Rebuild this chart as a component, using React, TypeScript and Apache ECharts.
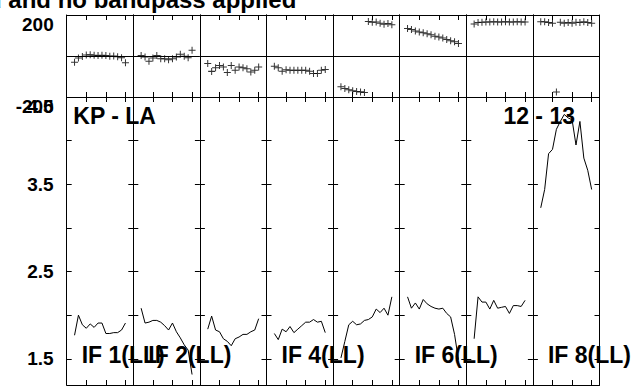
import React, { useEffect, useRef } from "react";
import * as echarts from "echarts";

// ---- data ----
const channels = [2, 3, 4, 5, 6, 7, 8, 9, 10, 11, 12, 13, 14, 15];
const ifLabels = ["IF 1(LL)", "IF 2(LL)", "", "IF 4(LL)", "", "IF 6(LL)", "", "IF 8(LL)"];
const baselineLabel = "KP - LA";
const timeLabel = "12 - 13";
const titleText = "d and no bandpass applied";

const phaseIF1 = [-30, -10, -2, 5, 6, 4, 3, 4, 2, -1, 0, -4, -8, -33];
const phaseIF2 = [3, -5, -26, -10, 3, -13, -13, -18, -13, -5, 8, -1, -8, 28];
const phaseIF3 = [-37, -75, -57, -46, -54, -80, -46, -70, -54, -57, -62, -78, -70, -54];
const phaseIF4 = [-50, -57, -74, -67, -70, -70, -70, -70, -70, -74, -85, -85, -70, -66];
const phaseIF5 = [-150, -158, -165, -170, -173, -175, -178, 168, 165, 166, 160, 155, 158, 152];
const phaseIF6 = [134, 129, 122, 117, 113, 109, 104, 96, 93, 88, 80, 74, 69, 61];
const phaseIF7 = [156, 163, 165, 166, 166, 167, 166, 166, 167, 166, 166, 167, 166, 166];
const phaseIF8 = [167, 167, 163, 160, -176, 165, 160, 163, 160, 165, 163, 167, 163, 160];

const ampIF1 = [1.77, 2.0, 1.89, 1.85, 1.9, 1.86, 1.91, 1.91, 1.79, 1.79, 1.8, 1.8, 1.83, 1.91];
const ampIF2 = [2.08, 1.91, 1.92, 1.94, 1.94, 1.92, 1.88, 1.83, 1.91, 1.81, 1.74, 1.66, 1.6, 1.32];
const ampIF3 = [1.84, 1.99, 1.83, 1.81, 1.73, 1.7, 1.65, 1.73, 1.75, 1.78, 1.78, 1.81, 1.83, 1.96];
const ampIF4 = [1.79, 1.72, 1.84, 1.81, 1.87, 1.8, 1.84, 1.88, 1.92, 1.92, 1.95, 1.92, 1.93, 1.8];
const ampIF5 = [1.51, 1.7, 1.89, 1.93, 1.89, 1.9, 1.94, 1.95, 1.98, 2.07, 2.03, 2.08, 2.0, 2.21];
const ampIF6 = [2.21, 2.08, 2.14, 2.07, 2.18, 2.13, 2.1, 2.08, 2.07, 2.08, 2.02, 1.98, 1.78, 1.49];
const ampIF7 = [1.73, 2.21, 2.15, 2.15, 2.07, 2.17, 2.08, 2.09, 2.1, 2.02, 2.11, 2.11, 2.1, 2.17];
const ampIF8 = [3.23, 3.44, 3.85, 3.9, 4.13, 4.22, 4.3, 4.26, 4.24, 3.95, 4.22, 3.8, 3.66, 3.44];

const phaseTicks = [-200, 0, 200];
const ampTickValues = [1.5, 2.0, 2.5, 3.0, 3.5, 4.0, 4.5];
const ampLabelValues = [1.5, 2.5, 3.5, 4.5];

const phaseData = [phaseIF1, phaseIF2, phaseIF3, phaseIF4, phaseIF5, phaseIF6, phaseIF7, phaseIF8];
const ampData = [ampIF1, ampIF2, ampIF3, ampIF4, ampIF5, ampIF6, ampIF7, ampIF8];

// ---- layout ----
const LEFT0 = 66.7;
const COLW = 66.6;
const TOP = 15;
const PH_H = 82;
const AMP_H = 288;
const FONT = '"Liberation Sans", Arial, sans-serif';
const PLUS = "path://M3,0h1v3h3v1h-3v3h-1v-3h-3v-1h3z";

export default function App() {
  const ref = useRef<HTMLDivElement>(null);
  useEffect(() => {
    if (!ref.current) return;
    const chart = echarts.init(ref.current, undefined, { renderer: "svg" });
    const grids: any[] = [];
    const xAxes: any[] = [];
    const yAxes: any[] = [];
    const series: any[] = [];
    const black = { color: "#000", width: 1 };

    for (let g = 0; g < 16; g++) {
      const col = g % 8;
      const isPhase = g < 8;
      grids.push({
        left: LEFT0 + col * COLW,
        top: isPhase ? TOP : TOP + PH_H,
        width: COLW,
        height: isPhase ? PH_H : AMP_H,
      });
      for (const pos of ["bottom", "top"]) {
        xAxes.push({
          gridIndex: g,
          type: "value",
          position: pos,
          min: 0,
          max: 17,
          interval: 5,
          axisLine: { show: true, onZero: false, lineStyle: black },
          axisTick: { show: true, inside: true, length: 5, lineStyle: black },
          axisLabel: { show: false },
          splitLine: { show: false },
        });
      }
      if (isPhase) {
        yAxes.push({
          gridIndex: g,
          type: "value",
          position: "left",
          min: phaseTicks[0],
          max: phaseTicks[2],
          interval: 200,
          axisLine: { show: true, onZero: false, lineStyle: black },
          axisTick: { show: false },
          splitLine: { show: true, lineStyle: black },
          axisLabel:
            col === 0
              ? {
                  show: true,
                  margin: 13,
                  fontSize: 19,
                  fontWeight: "bold",
                  fontFamily: FONT,
                  color: "#000",
                  verticalAlign: "top",
                  formatter: (v: number) => (v === 0 ? "" : String(v)),
                }
              : { show: false },
        });
        yAxes.push({
          gridIndex: g,
          type: "value",
          position: "right",
          min: phaseTicks[0],
          max: phaseTicks[2],
          interval: 200,
          axisLine: { show: true, onZero: false, lineStyle: black },
          axisTick: { show: false },
          splitLine: { show: false },
          axisLabel: { show: false },
        });
      } else {
        yAxes.push({
          gridIndex: g,
          type: "value",
          position: "left",
          min: 1.2,
          max: 4.5,
          axisLine: { show: true, onZero: false, lineStyle: black },
          axisTick: { show: true, inside: true, length: 5, lineStyle: black, customValues: ampTickValues },
          splitLine: { show: false },
          axisLabel:
            col === 0
              ? {
                  show: true,
                  customValues: ampLabelValues,
                  margin: 13,
                  fontSize: 19,
                  fontWeight: "bold",
                  fontFamily: FONT,
                  color: "#000",
                  verticalAlignMaxLabel: "top",
                  formatter: (v: number) => v.toFixed(1),
                }
              : { show: false },
        });
        yAxes.push({
          gridIndex: g,
          type: "value",
          position: "right",
          min: 1.2,
          max: 4.5,
          axisLine: { show: true, onZero: false, lineStyle: black },
          axisTick: { show: true, inside: true, length: 5, lineStyle: black, customValues: ampTickValues },
          splitLine: { show: false },
          axisLabel: { show: false },
        });
      }
    }

    for (let i = 0; i < 8; i++) {
      series.push({
        type: "scatter",
        xAxisIndex: 2 * i,
        yAxisIndex: 2 * i,
        symbol: PLUS,
        symbolSize: 7,
        itemStyle: { color: "#000" },
        data: channels.map((c, k) => [c, phaseData[i][k]]),
      });
      const g = 8 + i;
      series.push({
        type: "line",
        xAxisIndex: 2 * g,
        yAxisIndex: 2 * g,
        showSymbol: false,
        symbol: "none",
        lineStyle: { color: "#000", width: 1 },
        data: channels.map((c, k) => [c, ampData[i][k]]),
      });
    }

    const textStyle = (text: string, align: string, size = 23) => ({
      text,
      font: `bold ${size}px ${FONT}`,
      fill: "#000",
      textAlign: align,
      textVerticalAlign: "middle",
    });
    const graphics: any[] = [
      { type: "text", x: -13, y: -0.5, style: textStyle(titleText, "left", 24), z: 10 },
      { type: "text", x: 73.3, y: 116, style: textStyle(baselineLabel, "left"), z: 10 },
      { type: "text", x: 575, y: 116, style: textStyle(timeLabel, "right"), z: 10 },
    ];
    ifLabels.forEach((lab, i) => {
      if (!lab) return;
      graphics.push({
        type: "text",
        x: LEFT0 + i * COLW + 15,
        y: 354.5,
        style: textStyle(lab, "left"),
        z: 10,
      });
    });

    chart.setOption({
      animation: false,
      backgroundColor: "#fff",
      grid: grids,
      xAxis: xAxes,
      yAxis: yAxes,
      series,
      graphic: graphics,
    });
    return () => chart.dispose();
  }, []);
  return (
    <div
      ref={ref}
      style={{ position: "fixed", left: 0, top: 0, width: 634, height: 389, background: "#fff" }}
    />
  );
}
